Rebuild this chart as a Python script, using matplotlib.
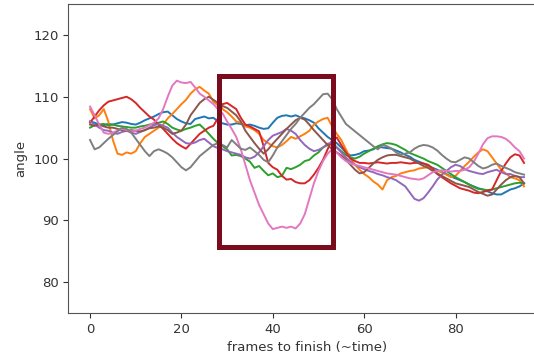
import matplotlib
matplotlib.use('Agg')
import matplotlib.pyplot as plt
from matplotlib.patches import Rectangle

frames = list(range(96))

# one trace per run
blue = [106.0, 105.8, 105.5, 105.4, 105.6, 105.5, 105.7, 105.9, 105.8, 105.6,
        105.5, 105.8, 106.2, 106.5, 106.8, 107.2, 107.5, 107.6, 107.0, 106.4,
        106.0, 105.7, 105.6, 106.4, 106.6, 106.8, 106.5, 106.6, 106.0, 105.7,
        105.5, 105.5, 105.7, 105.6, 105.4, 105.5, 105.3, 105.0, 104.8, 104.9,
        105.8, 106.6, 106.9, 107.0, 106.8, 107.0, 106.7, 106.5, 106.2, 105.8,
        104.9, 104.2, 103.5, 103.0, 102.5, 101.8, 101.0, 100.5, 100.6, 100.8,
        101.2, 101.3, 101.5, 101.9, 101.8, 101.7, 101.6, 101.3, 101.0, 100.6,
        100.3, 99.8, 99.5, 99.2, 98.8, 98.5, 98.2, 97.8, 97.5, 97.1,
        96.8, 96.5, 96.2, 95.8, 95.5, 95.2, 95.0, 94.7, 94.4, 94.2,
        94.2, 94.6, 95.0, 95.2, 95.5, 96.0]
orange = [108.0, 106.5, 107.0, 108.0, 106.0, 103.0, 100.8, 100.6, 101.0, 100.8,
          101.2, 102.5, 103.5, 104.0, 104.5, 105.0, 105.5, 106.5, 107.2, 108.0,
          108.8, 109.5, 110.5, 111.2, 111.6, 111.0, 110.5, 109.2, 108.6, 108.0,
          107.5, 106.8, 106.0, 105.8, 105.2, 105.0, 104.6, 104.0, 103.0, 102.5,
          102.0, 101.8, 102.2, 102.8, 103.5, 103.2, 103.6, 104.0, 104.5, 105.5,
          106.0, 106.4, 106.6, 105.2, 104.0, 103.0, 101.5, 100.0, 99.0, 98.2,
          97.5, 97.0, 96.3, 95.8, 95.0, 96.5, 97.0, 97.2, 97.6, 97.8,
          98.0, 98.1, 98.4, 98.5, 98.6, 98.3, 98.0, 97.8, 97.4, 97.0,
          97.2, 98.0, 98.8, 99.5, 100.3, 101.0, 101.5, 101.2, 100.2, 99.2,
          98.2, 97.6, 97.0, 96.8, 96.5, 95.5]
green = [105.0, 105.4, 105.5, 105.6, 105.4, 105.5, 105.3, 105.2, 105.1, 105.0,
         105.0, 105.2, 105.3, 105.5, 105.6, 105.8, 106.0, 105.6, 105.0, 104.7,
         104.5, 104.8, 105.0, 105.3, 105.5, 104.8, 104.0, 103.2, 102.5, 102.0,
         101.5, 100.5, 100.6, 100.4, 100.0, 99.5, 98.5, 98.8, 98.0, 97.3,
         97.6, 97.0, 97.2, 98.5, 98.3, 98.6, 99.0, 99.6, 99.8, 100.5,
         101.0, 101.8, 102.2, 102.5, 101.8, 101.2, 100.6, 100.2, 100.0, 100.3,
         100.8, 101.2, 101.6, 102.0, 102.3, 102.5, 102.4, 102.2, 101.8, 101.4,
         100.9, 100.6, 100.3, 100.0, 99.6, 99.3, 99.0, 98.5, 98.0, 97.5,
         97.0, 96.6, 96.2, 95.8, 95.4, 95.1, 95.0, 94.9, 95.0, 95.2,
         95.4, 95.6, 95.8, 96.0, 96.1, 96.0]
red = [105.8, 106.8, 107.8, 108.6, 109.2, 109.4, 109.6, 109.8, 110.0, 109.6,
       109.0, 108.2, 107.5, 106.8, 106.3, 105.5, 104.8, 104.0, 103.2, 102.5,
       102.0, 101.6, 102.4, 103.2, 104.0, 104.5, 105.0, 105.3, 106.5, 108.8,
       109.0, 108.5, 108.0, 106.6, 105.5, 105.2, 104.8, 104.4, 102.0, 99.3,
       98.6, 98.2, 97.2, 96.6, 96.7, 96.2, 96.0, 96.0, 96.5, 97.4,
       98.5, 99.8, 101.5, 103.0, 103.4, 102.2, 101.0, 100.0, 99.6, 99.3,
       99.3, 99.2, 99.3, 99.4, 99.3, 99.2, 99.3, 99.3, 99.4, 99.3,
       99.2, 99.3, 99.3, 99.2, 99.0, 98.4, 97.5, 97.0, 96.5, 96.0,
       95.6, 95.2, 95.0, 94.8, 94.5, 94.4, 94.6, 94.8, 95.0, 96.5,
       98.0, 99.2, 100.2, 100.7, 100.5, 99.3]
purple = [106.0, 105.5, 105.0, 104.6, 104.5, 104.2, 104.0, 104.3, 104.5, 104.2,
          104.0, 104.3, 104.6, 105.0, 105.4, 105.6, 105.3, 105.0, 104.2, 103.5,
          103.0, 102.5, 102.4, 102.6, 103.0, 103.2, 102.6, 102.0, 101.7, 101.5,
          101.2, 101.0, 100.8, 100.6, 100.2, 100.0, 100.3, 101.0, 102.0, 103.0,
          103.7, 104.0, 104.3, 104.8, 104.5, 104.0, 103.0, 102.2, 101.6, 101.2,
          101.4, 101.8, 102.4, 102.6, 101.8, 101.0, 100.2, 99.5, 99.0, 98.6,
          98.3, 98.0, 97.8, 97.5, 97.3, 97.0, 96.8, 96.5, 96.0, 95.5,
          94.5, 93.5, 93.2, 93.6, 94.5, 95.5, 96.6, 97.4, 98.0, 98.6,
          99.0, 98.8, 98.3, 98.0, 97.8, 97.6, 97.5, 97.8, 98.0, 98.2,
          97.8, 97.5, 97.5, 97.2, 97.0, 97.0]
brown = [105.5, 105.3, 105.5, 105.2, 105.0, 105.0, 104.8, 104.6, 104.5, 104.6,
         104.5, 104.4, 104.6, 104.9, 105.0, 105.2, 105.0, 104.6, 104.0, 104.2,
         104.5, 105.5, 107.0, 108.0, 109.0, 109.6, 110.0, 109.5, 109.0, 108.5,
         108.2, 107.6, 107.0, 106.0, 104.5, 103.5, 102.5, 101.6, 100.8, 101.5,
         102.4, 103.2, 104.0, 104.8, 105.5, 106.2, 106.6, 106.3, 105.5, 104.6,
         103.8, 103.0, 102.2, 101.5, 101.0, 100.5, 99.8, 99.0, 98.2, 97.6,
         97.8, 98.5, 99.2, 99.8, 100.2, 100.5, 100.6, 100.6, 100.4, 100.2,
         100.0, 99.6, 99.2, 98.8, 98.5, 98.0, 97.6, 97.2, 96.8, 96.4,
         96.0, 95.8, 95.6, 95.4, 95.0, 94.6, 94.3, 94.0, 94.2, 95.0,
         95.8, 96.5, 97.0, 97.2, 97.0, 96.0]
pink = [108.4, 107.0, 105.5, 104.2, 104.0, 104.2, 104.5, 104.8, 104.6, 104.4,
        104.5, 104.8, 105.0, 105.4, 105.8, 106.5, 108.0, 110.0, 111.8, 112.6,
        112.3, 112.2, 112.4, 111.5, 110.5, 110.0, 109.4, 108.8, 108.0, 107.3,
        106.0, 104.8, 103.5, 101.5, 99.0, 96.5, 94.5, 92.5, 91.0, 89.5,
        88.6, 88.8, 89.0, 88.8, 89.0, 88.7, 89.5, 91.0, 93.5, 96.0,
        98.0, 99.6, 100.8, 101.5, 101.0, 100.2, 99.6, 99.2, 99.0, 98.8,
        98.6, 98.4, 98.2, 98.0, 97.8, 97.6, 97.5, 97.4, 97.2, 97.0,
        96.8, 96.7, 96.6, 96.8, 97.3, 97.8, 98.0, 98.1, 98.0, 97.9,
        98.0, 98.0, 98.2, 98.6, 99.5, 100.8, 102.3, 103.3, 103.6, 103.6,
        103.5, 103.2, 102.6, 101.8, 101.2, 100.0]
gray = [103.0, 101.5, 101.8, 102.5, 103.2, 103.8, 104.4, 105.0, 104.8, 104.2,
        103.2, 102.2, 101.2, 100.4, 101.2, 101.5, 101.2, 100.8, 100.2, 99.4,
        98.6, 98.1, 98.6, 99.5, 100.4, 101.0, 101.6, 102.2, 102.5, 102.2,
        101.8, 103.0, 102.3, 101.6, 101.4, 101.8, 101.2, 100.6, 99.8, 99.4,
        100.5, 101.8, 102.8, 103.8, 104.8, 105.6, 106.6, 107.4, 108.2, 108.8,
        109.6, 110.4, 110.5, 109.6, 108.0, 106.8, 105.6, 105.0, 104.4, 103.8,
        103.2, 102.6, 102.0, 101.5, 102.2, 102.0, 101.6, 101.0, 100.6, 100.8,
        101.0, 101.6, 102.0, 102.2, 102.1, 101.8, 101.3, 100.6, 100.0, 99.5,
        99.4, 99.8, 100.2, 100.0, 99.4, 98.8, 98.4, 98.6, 99.0, 99.2,
        98.8, 98.5, 98.2, 97.8, 97.6, 97.4]

series = [blue, orange, green, red, purple, brown, pink, gray]

# highlighted window
box_x = [28.3, 53.2]
box_y = [85.7, 113.3]

fig = plt.figure(figsize=(5.34, 3.6), dpi=100)
ax = fig.add_axes([0.128, 0.13, 0.894, 0.859])

for s in series:
    ax.plot(frames, s, lw=1.4)

ax.add_patch(Rectangle((box_x[0], box_y[0]), box_x[1] - box_x[0], box_y[1] - box_y[0],
                       fill=False, edgecolor='#7b0c1d', lw=3.6, zorder=5))

ax.set_ylim(75, 125)
ax.set_xticks([0, 20, 40, 60, 80])
ax.set_yticks([80, 90, 100, 110, 120])
ax.tick_params(labelsize=9.5, colors='#333333')
for sp in ax.spines.values():
    sp.set_color('#555555')
ax.spines['right'].set_visible(False)
ax.set_xlabel('frames to finish (~time)', fontsize=9.5, color='#333333')
ax.set_ylabel('angle', fontsize=9.5, color='#333333')

fig.savefig('out.png', dpi=100)
